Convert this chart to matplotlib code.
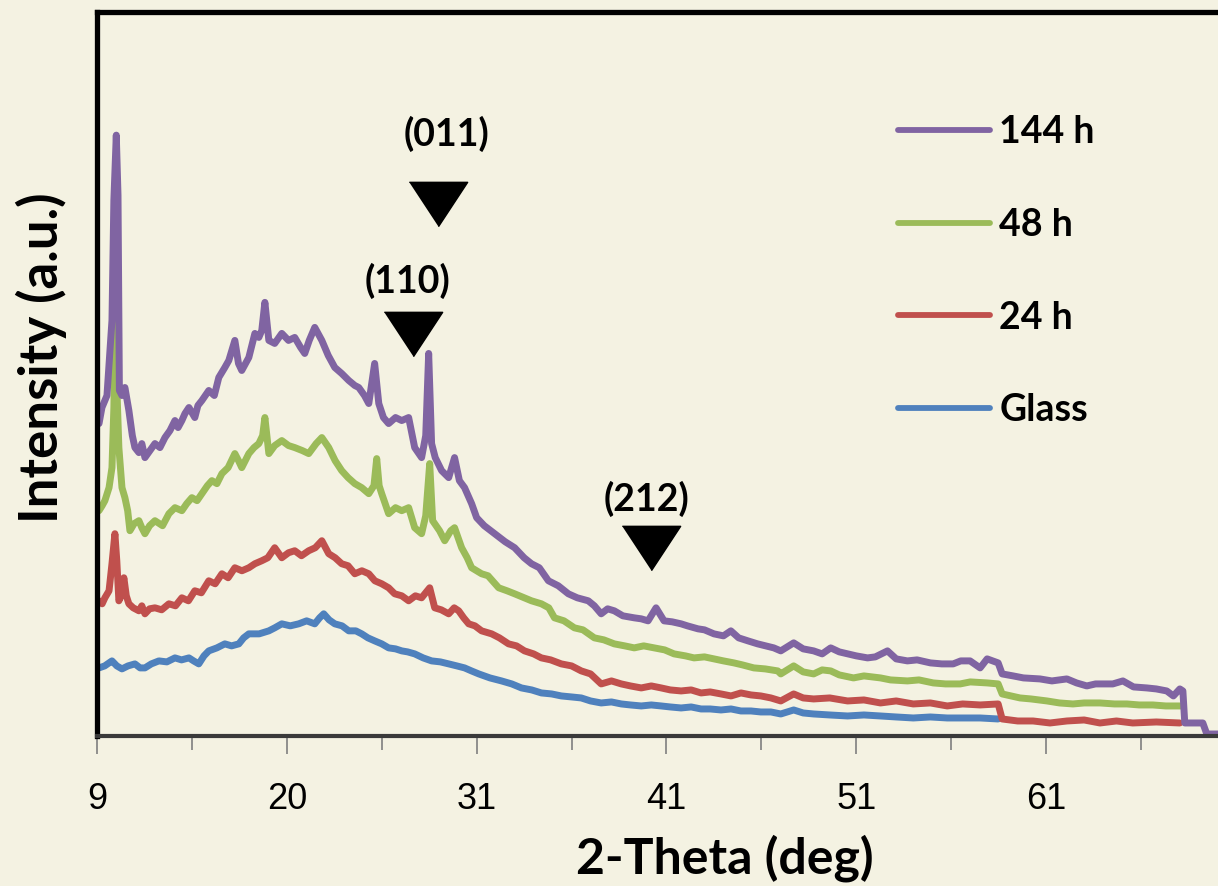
import numpy as np
import matplotlib.pyplot as plt

# 2-theta (deg), intensity (a.u.) pairs
h144 = [(9.12, 312), (9.29, 328), (9.58, 340), (9.87, 415), (9.98, 535), (10.12, 600), (10.22, 540),
        (10.30, 345), (10.45, 340), (10.62, 348), (10.85, 325), (11.05, 300), (11.20, 288), (11.43, 283),
        (11.60, 292), (11.78, 278), (12.07, 285), (12.36, 292), (12.65, 288), (12.94, 298), (13.23, 305),
        (13.52, 315), (13.70, 308), (13.92, 315), (14.10, 322), (14.33, 328), (14.67, 318), (14.85, 330),
        (15.08, 335), (15.48, 345), (15.80, 340), (16.06, 358), (16.41, 368), (16.64, 375), (16.99, 395),
        (17.20, 372), (17.39, 365), (17.80, 378), (18.15, 402), (18.38, 398), (18.55, 405), (18.73, 433),
        (18.96, 395), (19.30, 392), (19.71, 402), (20.10, 395), (20.46, 398), (20.80, 388), (21.04, 382),
        (21.30, 395), (21.62, 408), (22.03, 395), (22.40, 380), (22.78, 368), (23.18, 362), (23.59, 355),
        (23.94, 350), (24.17, 348), (24.50, 340), (24.75, 332), (25.09, 372), (25.33, 332), (25.60, 318),
        (25.90, 312), (26.30, 318), (26.66, 315), (27.06, 318), (27.41, 288), (27.81, 278), (28.05, 300),
        (28.22, 382), (28.39, 292), (28.60, 278), (28.97, 265), (29.38, 258), (29.72, 278), (30.00, 255),
        (30.30, 248), (30.71, 232), (31.00, 218), (31.40, 210), (31.95, 202), (32.50, 194), (33.00, 188),
        (33.50, 178), (33.89, 172), (34.30, 168), (34.78, 155), (35.30, 150), (35.83, 142), (36.30, 138),
        (36.88, 135), (37.20, 130), (37.56, 122), (37.90, 127), (38.25, 125), (38.70, 120), (39.30, 118),
        (39.67, 117), (40.03, 115), (40.45, 128), (40.87, 115), (41.30, 114), (41.77, 112), (42.10, 110),
        (42.66, 107), (43.00, 106), (43.50, 102), (44.00, 100), (44.39, 105), (44.80, 98), (45.29, 95),
        (45.80, 92), (46.65, 88), (47.02, 85), (47.70, 93), (48.20, 87), (48.75, 85), (49.20, 82),
        (49.65, 88), (50.10, 84), (50.54, 82), (51.00, 80), (51.59, 78), (52.00, 79), (52.64, 85),
        (53.10, 77), (53.69, 75), (54.20, 76), (54.90, 73), (55.50, 72), (56.10, 72), (56.50, 75),
        (56.99, 75), (57.52, 68), (57.89, 77), (58.47, 73), (58.68, 62), (59.26, 60), (59.80, 58),
        (60.67, 57), (61.30, 55), (62.09, 57), (62.60, 53), (63.14, 50), (63.60, 52), (64.51, 52),
        (65.04, 55), (65.60, 49), (66.30, 48), (66.80, 47), (67.35, 45), (67.70, 40), (68.04, 47),
        (68.20, 45), (68.30, 13), (69.25, 13), (69.46, 2), (70.10, 2)]

h48 = [(9.12, 225), (9.30, 230), (9.46, 235), (9.70, 248), (9.87, 268), (9.98, 328), (10.06, 420),
       (10.15, 350), (10.27, 288), (10.45, 248), (10.62, 238), (10.78, 225), (10.91, 205), (11.15, 212),
       (11.43, 215), (11.60, 208), (11.78, 202), (12.05, 210), (12.36, 215), (12.80, 210), (13.17, 222),
       (13.52, 228), (13.92, 225), (14.20, 232), (14.50, 238), (14.80, 235), (15.08, 242), (15.40, 250),
       (15.66, 255), (15.95, 252), (16.24, 262), (16.60, 268), (16.99, 282), (17.20, 275), (17.39, 268),
       (17.80, 282), (18.10, 288), (18.38, 292), (18.60, 300), (18.73, 318), (18.96, 282), (19.30, 290),
       (19.71, 295), (20.10, 290), (20.46, 288), (20.90, 285), (21.27, 282), (21.70, 292), (22.03, 298),
       (22.43, 288), (22.80, 275), (23.18, 265), (23.55, 258), (23.94, 252), (24.34, 248), (24.75, 242),
       (25.05, 250), (25.21, 277), (25.35, 250), (25.50, 242), (25.90, 222), (26.30, 228), (26.66, 225),
       (27.06, 228), (27.41, 208), (27.81, 202), (28.05, 220), (28.28, 272), (28.45, 215), (28.57, 212),
       (28.85, 205), (29.15, 195), (29.50, 205), (29.72, 208), (30.13, 188), (30.45, 178), (30.71, 168),
       (31.26, 162), (31.60, 160), (32.16, 148), (32.60, 145), (33.00, 142), (33.50, 138), (33.89, 135),
       (34.41, 132), (34.80, 128), (35.10, 118), (35.60, 115), (36.15, 108), (36.60, 106), (37.20, 98),
       (37.70, 96), (38.25, 92), (38.80, 90), (39.30, 88), (39.80, 90), (40.35, 88), (40.90, 86),
       (41.40, 82), (42.00, 80), (42.45, 78), (43.00, 79), (43.50, 77), (44.00, 75), (44.55, 73),
       (45.00, 71), (45.60, 68), (46.20, 67), (46.86, 65), (47.02, 62), (47.70, 70), (48.20, 64),
       (48.75, 62), (49.20, 66), (49.65, 65), (50.10, 61), (50.85, 58), (51.40, 60), (52.27, 58),
       (52.80, 56), (53.69, 55), (54.30, 56), (55.05, 53), (55.70, 52), (56.47, 52), (57.00, 54),
       (57.89, 53), (58.47, 52), (58.68, 42), (59.62, 38), (60.20, 37), (61.04, 35), (61.70, 33),
       (62.41, 32), (63.00, 33), (63.83, 33), (64.60, 32), (65.25, 32), (65.90, 31), (66.62, 31),
       (67.30, 30), (68.04, 30), (68.15, 30)]

h24 = [(9.12, 135), (9.30, 132), (9.46, 138), (9.70, 145), (9.87, 172), (10.04, 202), (10.15, 175),
       (10.27, 135), (10.40, 140), (10.56, 158), (10.70, 140), (10.85, 132), (11.10, 128), (11.43, 125),
       (11.60, 130), (11.78, 122), (12.05, 127), (12.36, 128), (12.75, 126), (13.17, 132), (13.55, 130),
       (13.92, 138), (14.30, 135), (14.67, 145), (15.05, 143), (15.48, 155), (15.85, 152), (16.24, 162),
       (16.60, 158), (16.99, 168), (17.40, 165), (17.80, 168), (18.15, 172), (18.55, 175), (18.90, 178),
       (19.30, 188), (19.71, 178), (20.10, 183), (20.46, 185), (20.85, 180), (21.27, 185), (21.65, 188),
       (22.03, 195), (22.43, 182), (22.80, 178), (23.18, 172), (23.55, 170), (23.94, 162), (24.35, 165),
       (24.75, 162), (25.10, 155), (25.50, 152), (25.90, 148), (26.25, 142), (26.66, 140), (27.06, 135),
       (27.45, 140), (27.81, 138), (28.28, 148), (28.57, 128), (28.95, 126), (29.38, 122), (29.70, 128),
       (29.96, 125), (30.25, 118), (30.54, 112), (30.90, 110), (31.26, 105), (31.79, 102), (32.20, 98),
       (32.68, 92), (33.10, 90), (33.52, 85), (34.00, 82), (34.41, 78), (34.90, 76), (35.46, 72),
       (36.00, 70), (36.51, 65), (37.00, 62), (37.56, 52), (38.10, 55), (38.62, 52), (39.10, 50),
       (39.67, 48), (40.20, 50), (40.72, 48), (41.20, 46), (41.77, 45), (42.30, 46), (42.82, 43),
       (43.30, 44), (43.87, 42), (44.40, 40), (44.92, 43), (45.45, 41), (45.97, 40), (46.50, 38),
       (47.02, 35), (47.70, 42), (48.20, 38), (48.75, 37), (49.60, 38), (50.54, 35), (51.40, 36),
       (52.27, 33), (53.10, 35), (54.00, 32), (54.90, 33), (55.79, 30), (56.60, 32), (57.52, 31),
       (58.47, 32), (58.68, 17), (59.50, 15), (60.31, 15), (61.20, 13), (62.09, 15), (63.00, 16),
       (63.83, 13), (64.70, 15), (65.56, 13), (66.80, 14), (68.04, 13)]

glass = [(9.12, 68), (9.45, 70), (9.70, 73), (9.87, 75), (10.15, 70), (10.45, 67), (10.80, 70),
         (11.20, 72), (11.50, 68), (11.78, 68), (12.15, 72), (12.59, 75), (13.05, 74), (13.52, 78),
         (13.90, 76), (14.33, 78), (14.60, 75), (14.90, 72), (15.20, 80), (15.48, 85), (15.95, 88),
         (16.41, 92), (16.80, 90), (17.22, 92), (17.50, 98), (17.80, 102), (18.40, 102), (18.96, 105),
         (19.30, 108), (19.71, 112), (20.20, 110), (20.69, 112), (21.15, 115), (21.62, 112), (21.90, 118),
         (22.14, 122), (22.45, 116), (22.78, 112), (23.20, 110), (23.59, 105), (24.00, 105), (24.34, 102),
         (24.70, 98), (25.09, 95), (25.50, 92), (25.90, 88), (26.30, 87), (26.66, 85), (27.00, 84),
         (27.41, 82), (27.90, 78), (28.39, 75), (28.90, 74), (29.38, 72), (29.85, 70), (30.30, 68),
         (30.70, 65), (31.11, 62), (31.70, 58), (32.31, 55), (32.85, 52), (33.36, 48), (33.90, 46),
         (34.41, 43), (34.95, 42), (35.46, 40), (36.00, 39), (36.51, 38), (37.00, 35), (37.56, 33),
         (38.10, 34), (38.62, 32), (39.10, 31), (39.67, 30), (40.20, 31), (40.72, 30), (41.20, 29),
         (41.77, 28), (42.30, 29), (42.82, 27), (43.30, 27), (43.87, 26), (44.40, 27), (44.92, 25),
         (45.45, 25), (45.97, 24), (46.50, 24), (47.02, 22), (47.70, 26), (48.20, 23), (48.75, 22),
         (49.60, 21), (50.54, 20), (51.40, 21), (52.27, 20), (53.10, 19), (54.00, 18), (54.90, 19),
         (55.79, 18), (56.60, 18), (57.52, 18), (58.47, 17)]

series_names = ['144 h', '48 h', '24 h', 'Glass']

# peak markers: label, 2-theta of marker, height of marker, position of label
peak_labels = ['(011)', '(110)', '(212)']
peak_theta = [28.74, 27.29, 40.19]
peak_marker_y = [531, 401, 188]
peak_label_theta = [29.26, 27.0, 39.93]
peak_label_y = [601, 454, 237]

tick_major = [9, 20, 31, 41, 51, 61]
tick_minor = [14.5, 25.5, 36, 46, 56, 66]

bg = '#F4F2E2'
bold_font = ['Lato', 'DejaVu Sans']
tick_font = ['Liberation Sans', 'DejaVu Sans']


# category-like axis: 5.5 deg per tick below 31, 5 deg per tick above
def fwd(x):
    x = np.asarray(x, dtype=float)
    return np.where(x < 31, (x - 9) / 5.5, 4 + (x - 31) / 5.0)


def inv(p):
    p = np.asarray(p, dtype=float)
    return np.where(p < 4, 9 + 5.5 * p, 31 + 5.0 * (p - 4))


fig = plt.figure(figsize=(12.18, 8.86), dpi=100, facecolor=bg)
ax = fig.add_axes([0.0796, 0.1693, 1 - 0.0796, 0.9865 - 0.1693])
ax.set_facecolor(bg)
ax.set_xscale('function', functions=(fwd, inv))

handles = {}
for name, data, color in zip(['Glass', '24 h', '48 h', '144 h'],
                             [glass, h24, h48, h144],
                             ['#4F81BD', '#C0504D', '#9BBB59', '#8064A2']):
    t, y = zip(*data)
    handles[name], = ax.plot(t, y, color=color, lw=5, solid_joinstyle='round',
                             solid_capstyle='round', label=name)

tri = [(-1, 0.76), (1, 0.76), (0, -0.76)]
for lab, tx, my, lx, ly in zip(peak_labels, peak_theta, peak_marker_y, peak_label_theta, peak_label_y):
    ax.plot([tx], [my], marker=tri, markersize=42, color='black', linestyle='none')
    ax.text(lx, ly, lab, ha='center', va='center', fontsize=27, fontweight='bold', family=bold_font)

ax.set_xlim(9, 70.05)
ax.set_ylim(0, 723)

ax.set_xticks(tick_major)
ax.set_xticklabels([str(v) for v in tick_major], family=tick_font, fontsize=26)
ax.set_xticks(tick_minor, minor=True)
ax.tick_params(axis='x', which='major', length=13, width=1.2, color='#7f7f7f', pad=20)
ax.tick_params(axis='x', which='minor', length=10, width=1.2, color='#7f7f7f')
ax.set_yticks([])

for s in ['left', 'top']:
    ax.spines[s].set_color('black')
    ax.spines[s].set_linewidth(3.8)
ax.spines['bottom'].set_color('#3a3a3a')
ax.spines['bottom'].set_linewidth(3)
ax.spines['right'].set_visible(False)

ax.set_xlabel('2-Theta (deg)', fontsize=36, fontweight='bold', family=bold_font)
ax.xaxis.set_label_coords(0.560, -0.136)
ax.set_ylabel('Intensity (a.u.)', fontsize=38, fontweight='bold', family=bold_font)
ax.yaxis.set_label_coords(-0.027, 0.523)

leg = ax.legend([handles[n] for n in series_names], series_names, loc='upper left',
                bbox_to_anchor=(0.7146, 0.858), frameon=False, borderpad=0, borderaxespad=0,
                handlelength=2.45, handletextpad=0.25, labelspacing=1.57,
                prop={'family': bold_font, 'weight': 'bold', 'size': 27})
for line in leg.get_lines():
    line.set_linewidth(4.2)

fig.savefig('out.png', dpi=100, facecolor=bg)
